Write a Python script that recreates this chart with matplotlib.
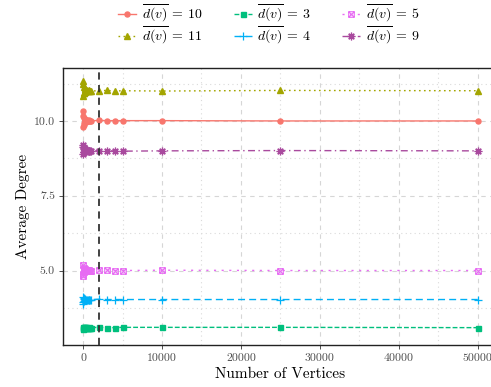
#!/usr/bin/env python3
"""Average degree vs number of vertices for several target degrees."""

import matplotlib
matplotlib.use("Agg")
import matplotlib.pyplot as plt
import matplotlib.ticker as ticker
from matplotlib.path import Path

# Number of vertices (x positions of the samples)
n_vertices = [10, 25, 50, 75, 100, 150, 200, 250, 300, 400, 500, 600, 700,
              800, 900, 1000, 2000, 3000, 4000, 5000, 10000, 25000, 50000]

# Measured average degree per target degree
deg_10 = [10.34, 9.80, 10.18, 9.88, 10.10, 9.94, 10.06, 9.97, 10.04, 9.98, 10.03, 9.99,
          10.02, 10.00, 10.01, 10.00, 10.02, 10.01, 10.01, 10.01, 10.01, 10.00, 10.00]
deg_11 = [11.35, 10.85, 11.25, 10.92, 11.15, 10.95, 11.08, 10.98, 11.05, 11.00, 11.03, 10.99,
          11.02, 11.00, 11.01, 11.00, 11.01, 11.02, 11.00, 11.01, 11.00, 11.02, 11.01]
deg_3 = [3.08, 3.12, 3.06, 3.11, 3.09, 3.10, 3.08, 3.10, 3.09, 3.10, 3.09, 3.09,
         3.10, 3.09, 3.09, 3.09, 3.10, 3.09, 3.09, 3.10, 3.10, 3.10, 3.09]
deg_4 = [3.88, 4.12, 3.95, 4.08, 3.98, 4.05, 4.00, 4.04, 4.02, 4.03, 4.02, 4.03,
         4.02, 4.03, 4.03, 4.03, 4.04, 4.03, 4.03, 4.03, 4.03, 4.03, 4.03]
deg_5 = [4.82, 5.18, 4.90, 5.10, 4.95, 5.06, 4.98, 5.04, 5.00, 5.02, 4.99, 5.01,
         5.00, 5.01, 5.00, 5.00, 5.01, 5.02, 5.00, 5.00, 5.01, 5.00, 5.00]
deg_9 = [9.20, 8.88, 9.12, 8.95, 9.08, 8.97, 9.05, 8.99, 9.03, 9.00, 9.02, 8.99,
         9.01, 9.00, 9.01, 9.00, 9.01, 9.00, 9.00, 8.99, 9.00, 9.01, 9.00]

targets = ["10", "11", "3", "4", "5", "9"]
cutoff_n = 2000

# square with a cross inside (like R pch 7)
_sq = Path([(-1, -1), (1, -1), (1, 1), (-1, 1), (-1, -1),
            (-1, -1), (1, 1), (-1, 1), (1, -1)],
           [Path.MOVETO, Path.LINETO, Path.LINETO, Path.LINETO, Path.CLOSEPOLY,
            Path.MOVETO, Path.LINETO, Path.MOVETO, Path.LINETO])


def main():
    plt.rcParams['font.family'] = ['cmr10', 'DejaVu Serif']
    plt.rcParams['mathtext.fontset'] = 'cm'
    plt.rcParams['axes.formatter.use_mathtext'] = True

    fig = plt.figure(figsize=(4.91, 3.87), dpi=100)
    ax = fig.add_axes([63.3 / 491, 1 - 345 / 387, (497.5 - 63.3) / 491, (345 - 68) / 387])

    series = [
        (deg_10, '#F8766D', '-', 'o', dict(ms=3.6)),
        (deg_11, '#A3A500', (0, (1.2, 2.4)), '^', dict(ms=4.2)),
        (deg_3, '#00BF7D', (0, (3.5, 1.5)), 's', dict(ms=3.6)),
        (deg_4, '#00B0F6', (0, (5, 3)), '+', dict(ms=5.5, mew=0.9)),
        (deg_5, '#E76BF3', (0, (1.5, 4)), _sq, dict(ms=4, mfc='none', mew=0.8)),
        (deg_9, '#A94A9E', (0, (5, 2.5, 1, 2.5)), (8, 2, 0), dict(ms=5.5, mew=0.9)),
    ]

    handles = []
    for (vals, color, ls, marker, kw), t in zip(series, targets):
        h, = ax.plot(n_vertices, vals, color=color, linestyle=ls, linewidth=1.0,
                     marker=marker, mec=color, **kw,
                     label=r'$\overline{d(v)}\:=\:%s$' % t, zorder=3)
        handles.append(h)

    ax.axvline(cutoff_n, color='#333333', linestyle=(0, (4, 3)), linewidth=1.3, zorder=4)

    # Axes limits / ticks
    ax.set_xlim(-2500, 52500)
    ax.set_ylim(2.51, 11.77)
    ax.xaxis.set_major_locator(ticker.MultipleLocator(10000))
    ax.xaxis.set_minor_locator(ticker.FixedLocator([5000, 15000, 25000, 35000, 45000]))
    ax.yaxis.set_major_locator(ticker.FixedLocator([5.0, 7.5, 10.0]))
    ax.yaxis.set_minor_locator(ticker.FixedLocator([3.75, 6.25, 8.75, 11.25]))
    ax.yaxis.set_major_formatter(ticker.FormatStrFormatter('%.1f'))
    ax.xaxis.set_major_formatter(ticker.FormatStrFormatter('%d'))

    ax.tick_params(which='major', length=3, width=0.6, color='#333333',
                   labelcolor='#4D4D4D', labelsize=8.5, pad=3)
    ax.tick_params(which='minor', length=0)

    # Grid: dashed majors, dotted minors
    ax.grid(True, which='major', color='#D6D6D6', linestyle=(0, (4, 4)), linewidth=0.8)
    ax.grid(True, which='minor', color='#DADADA', linestyle=(0, (1, 3)), linewidth=0.8)
    ax.set_axisbelow(True)

    for sp in ax.spines.values():
        sp.set_color('#222222')
        sp.set_linewidth(1.0)

    ax.set_xlabel('Number of Vertices', fontsize=11, labelpad=3)
    ax.set_ylabel('Average Degree', fontsize=11, labelpad=3)

    fig.legend(handles=handles, loc='upper center', bbox_to_anchor=(0.548, 1.025),
               ncol=3, frameon=False, fontsize=10, handlelength=1.3,
               columnspacing=2.2, handletextpad=0.4, labelspacing=0.0)

    fig.savefig('out.png', dpi=100)


if __name__ == "__main__":
    main()
